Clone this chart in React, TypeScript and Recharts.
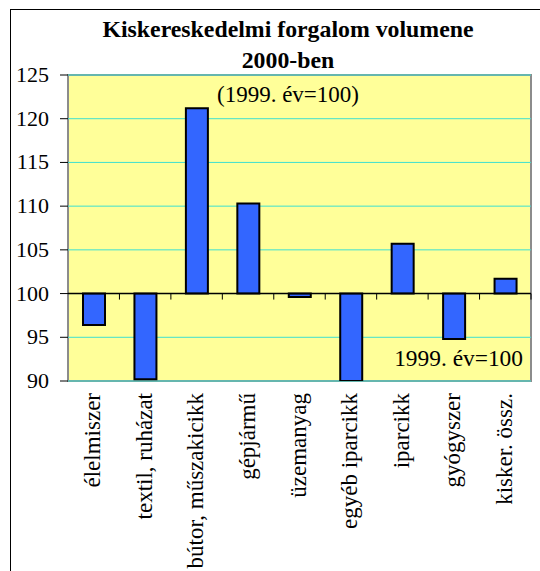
import { BarChart, Bar, XAxis, YAxis, CartesianGrid, ReferenceLine } from 'recharts';

const categories = [
  'élelmiszer',
  'textil, ruházat',
  'bútor, műszakicikk',
  'gépjármű',
  'üzemanyag',
  'egyéb iparcikk',
  'iparcikk',
  'gyógyszer',
  'kisker. össz.',
];
const volume = [96.4, 90.2, 121.2, 110.3, 99.6, 90.0, 105.7, 94.8, 101.7];
const yTicks = [90, 95, 100, 105, 110, 115, 120, 125];
const BASE = 100;

// a sáv 100-tól indul, fel vagy le
const data = categories.map((name, i) => ({
  name,
  range: volume[i] >= BASE ? [BASE, volume[i]] : [volume[i], BASE],
}));

const W = 540;
const H = 571;
const PLOT = { left: 68, top: 75, right: 531, bottom: 381 };
const X_AXIS_H = 30;
const FONT = 'Liberation Serif';

function CategoryTick(props: any) {
  const { x, y, payload } = props;
  const ty = y + 12;
  return (
    <text
      x={x - 1}
      y={ty}
      transform={`rotate(-90, ${x - 1}, ${ty})`}
      textAnchor="end"
      dominantBaseline="central"
      fontSize={23}
      fontFamily={FONT}
      fill="#000"
    >
      {payload.value}
    </text>
  );
}

function ValueTick(props: any) {
  const { x, y, payload } = props;
  return (
    <text x={x} y={y} dy={7} textAnchor="end" fontSize={22} fontFamily={FONT} fill="#000">
      {payload.value}
    </text>
  );
}

// 100-as vonal + kis osztások a kategóriák között
function BaseLine(props: any) {
  const { x1, y1, x2, y2 } = props;
  const n = categories.length;
  const step = (x2 - x1) / n;
  const marks = [];
  for (let i = 1; i <= n; i++) {
    const mx = x1 + i * step;
    marks.push(<line key={i} x1={mx} y1={y1} x2={mx} y2={y1 + 6} stroke="#000" strokeWidth={1} />);
  }
  return (
    <g>
      <line x1={x1} y1={y1} x2={x2} y2={y2} stroke="#000" strokeWidth={1.5} />
      {marks}
    </g>
  );
}

export default function App() {
  return (
    <div style={{ position: 'absolute', left: 0, top: 0, width: W, height: H, overflow: 'hidden', background: '#fff' }}>
      <div
        style={{
          position: 'absolute',
          left: 10,
          top: 9,
          width: W,
          height: H,
          borderLeft: '1.5px solid #000',
          borderTop: '1.5px solid #000',
        }}
      />
      <svg width={W} height={H} style={{ position: 'absolute', left: 0, top: 0 }}>
        <rect
          x={PLOT.left}
          y={PLOT.top}
          width={PLOT.right - PLOT.left}
          height={PLOT.bottom - PLOT.top}
          fill="#FFFF99"
          stroke="#8c8c8c"
          strokeWidth={2}
        />
      </svg>
      <div style={{ position: 'absolute', left: 0, top: 0 }}>
        <BarChart
          width={W}
          height={H}
          data={data}
          margin={{ top: PLOT.top, right: W - PLOT.right, bottom: H - PLOT.bottom - X_AXIS_H, left: 0 }}
        >
          <CartesianGrid vertical={false} stroke="#3FE0D0" strokeWidth={1} />
          <XAxis
            dataKey="name"
            interval={0}
            axisLine={false}
            tickLine={false}
            tickSize={0}
            tickMargin={0}
            height={X_AXIS_H}
            tick={<CategoryTick />}
          />
          <YAxis
            domain={[90, 125]}
            ticks={yTicks}
            width={PLOT.left}
            axisLine={false}
            tickLine={{ stroke: '#000' }}
            tickSize={8}
            tickMargin={11}
            tick={<ValueTick />}
            allowDataOverflow
          />
          <Bar
            dataKey="range"
            fill="#3366FF"
            stroke="#000"
            strokeWidth={2}
            barSize={22}
            isAnimationActive={false}
          />
          <ReferenceLine y={BASE} shape={<BaseLine />} />
        </BarChart>
      </div>
      <svg width={W} height={H} style={{ position: 'absolute', left: 0, top: 0, pointerEvents: 'none' }}>
        <text x={288} y={37} textAnchor="middle" fontSize={23.8} fontWeight="bold" fontFamily={FONT}>
          Kiskereskedelmi forgalom volumene
        </text>
        <text x={288} y={68} textAnchor="middle" fontSize={23.8} fontWeight="bold" fontFamily={FONT}>
          2000-ben
        </text>
        <text x={288} y={102} textAnchor="middle" fontSize={23} fontFamily={FONT}>
          (1999. év=100)
        </text>
        <text x={523} y={366} textAnchor="end" fontSize={23.4} fontFamily={FONT}>
          1999. év=100
        </text>
      </svg>
    </div>
  );
}
